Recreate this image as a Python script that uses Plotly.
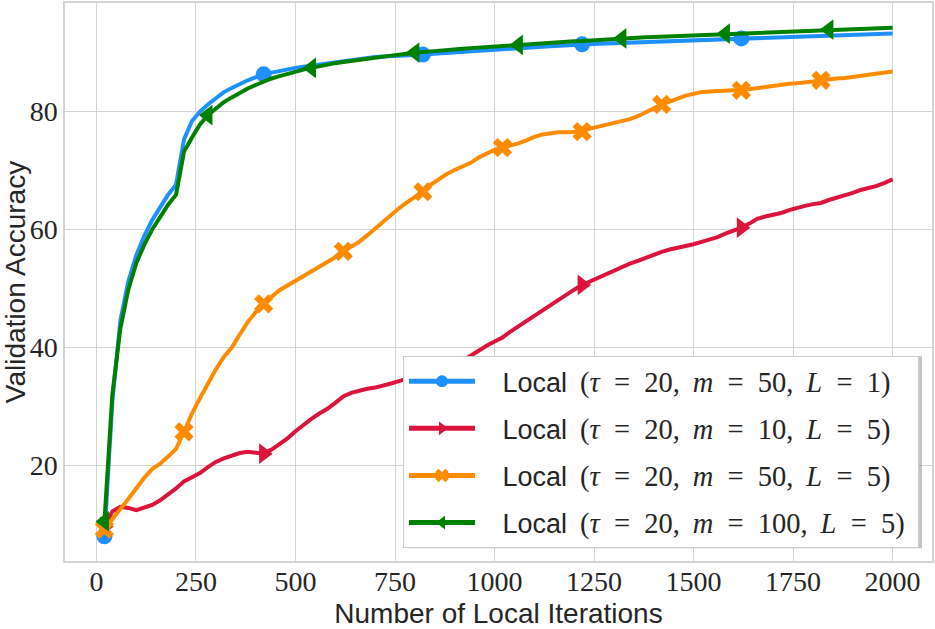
import plotly.graph_objects as go

# Local iterations (evaluation every 20 iterations)
iterations = list(range(20, 2001, 20))

acc_m50_L1 = [
    8.0, 31.0, 44.5, 51.2, 55.6, 58.9, 61.6, 63.9, 65.9, 67.6,
    75.3, 78.4, 80.0, 81.2, 82.3, 83.3, 84.0, 84.7, 85.3, 85.8,
    86.3, 86.6, 86.9, 87.2, 87.4, 87.6, 87.8, 88.0, 88.2, 88.4,
    88.6, 88.8, 88.95, 89.1, 89.25, 89.35, 89.45, 89.5, 89.55, 89.6,
    89.65, 89.75, 89.85, 89.95, 90.05, 90.15, 90.2, 90.3, 90.4, 90.5,
    90.6, 90.7, 90.8, 90.85, 90.95, 91.0, 91.05, 91.15, 91.2, 91.3,
    91.4, 91.45, 91.5, 91.55, 91.6, 91.65, 91.7, 91.75, 91.8, 91.85,
    91.9, 91.95, 92.0, 92.05, 92.1, 92.15, 92.2, 92.25, 92.3, 92.35,
    92.4, 92.45, 92.5, 92.55, 92.6, 92.65, 92.7, 92.75, 92.8, 92.85,
    92.9, 92.95, 93.0, 93.0, 93.05, 93.1, 93.1, 93.15, 93.2, 93.25,
]

acc_m10_L5 = [
    9.6, 12.2, 13.0, 12.8, 12.4, 12.8, 13.3, 14.1, 15.0, 16.1,
    17.3, 18.0, 18.7, 19.7, 20.6, 21.2, 21.7, 22.1, 22.3, 22.2,
    22.0, 22.7, 23.6, 24.6, 25.8, 26.9, 27.9, 28.8, 29.6, 30.6,
    31.7, 32.3, 32.7, 33.0, 33.2, 33.5, 33.9, 34.3, 34.7, 35.1,
    35.4, 35.8, 36.3, 36.8, 37.3, 37.8, 38.6, 39.5, 40.3, 41.0,
    41.7, 42.7, 43.6, 44.4, 45.3, 46.3, 47.2, 48.1, 48.9, 49.8,
    50.6, 51.2, 51.8, 52.4, 53.1, 53.7, 54.2, 54.7, 55.2, 55.8,
    56.2, 56.6, 56.9, 57.1, 57.5, 57.9, 58.3, 58.7, 59.3, 59.8,
    60.3, 61.0, 61.8, 62.2, 62.5, 62.8, 63.3, 63.7, 64.0, 64.3,
    64.5, 65.0, 65.4, 65.7, 66.2, 66.7, 67.0, 67.4, 67.9, 68.5,
]

acc_m50_L5 = [
    9.2, 11.0, 12.6, 14.3, 16.2, 17.9, 19.4, 20.3, 21.5, 22.8,
    25.7, 28.8, 31.4, 33.9, 36.3, 38.4, 40.0, 42.2, 44.3, 46.0,
    47.4, 48.6, 49.7, 50.5, 51.2, 52.0, 52.9, 53.7, 54.5, 55.3,
    56.3, 57.1, 57.9, 59.0, 60.2, 61.3, 62.5, 63.6, 64.6, 65.5,
    66.4, 67.6, 68.6, 69.4, 70.1, 70.7, 71.3, 72.2, 72.9, 73.5,
    73.9, 74.2, 74.6, 75.1, 75.7, 76.1, 76.3, 76.5, 76.5, 76.6,
    76.6, 77.1, 77.4, 77.7, 78.0, 78.3, 78.7, 79.2, 79.9, 80.6,
    81.2, 81.7, 82.2, 82.7, 83.0, 83.3, 83.4, 83.5, 83.5, 83.6,
    83.6, 83.8, 84.0, 84.1, 84.3, 84.5, 84.7, 84.8, 84.9, 85.1,
    85.3, 85.5, 85.6, 85.7, 85.9, 86.1, 86.2, 86.4, 86.6, 86.8,
]

acc_m100_L5 = [
    10.5, 32.0, 43.2, 49.8, 54.3, 57.4, 60.0, 62.2, 64.2, 65.9,
    73.2, 75.6, 77.8, 79.4, 80.6, 81.6, 82.4, 83.2, 83.9, 84.5,
    85.1, 85.6, 86.0, 86.4, 86.8, 87.1, 87.4, 87.7, 88.0, 88.2,
    88.4, 88.6, 88.8, 89.0, 89.2, 89.35, 89.5, 89.65, 89.8, 90.0,
    90.1, 90.2, 90.35, 90.45, 90.55, 90.65, 90.75, 90.85, 90.95, 91.05,
    91.1, 91.2, 91.3, 91.35, 91.45, 91.5, 91.6, 91.7, 91.8, 91.9,
    91.95, 92.05, 92.1, 92.2, 92.3, 92.4, 92.45, 92.5, 92.6, 92.65,
    92.7, 92.75, 92.8, 92.9, 92.95, 93.0, 93.05, 93.1, 93.2, 93.25,
    93.3, 93.35, 93.4, 93.45, 93.5, 93.55, 93.6, 93.7, 93.75, 93.8,
    93.85, 93.9, 93.95, 94.0, 94.0, 94.05, 94.1, 94.1, 94.15, 94.2,
]

x_ticks = [0, 250, 500, 750, 1000, 1250, 1500, 1750, 2000]
y_ticks = [20, 40, 60, 80]

SERIF = "Liberation Serif"
SANS = "Liberation Sans"
EQ = "\u2002=\u2002"
SEP = ",\u2009 "
LEAD = "\u00a0\u00a0\u00a0"
TRAIL = "\u00a0"


def label(tau, m, L):
    return (f'{LEAD}Local\u2009 <span style="font-family:{SERIF}; font-size:28.5px">'
            f'(<i>τ</i>{EQ}{tau}{SEP}<i>m</i>{EQ}{m}{SEP}<i>L</i>{EQ}{L})</span>'
            f'{TRAIL}')


series = [
    (acc_m50_L1, label(20, 50, 1), "#1E90FF", "circle", 20, 16),
    (acc_m10_L5, label(20, 10, 5), "#DC143C", "triangle-right", 20, 18),
    (acc_m50_L5, label(20, 50, 5), "#FF8C00", "x", 10, 17),
    (acc_m100_L5, label(20, 100, 5), "#008000", "triangle-left", 13, 18),
]

fig = go.Figure()
for k, (vals, name, color, sym, every, msize) in enumerate(series):
    sizes = [msize if i % every == 0 else 0 for i in range(len(iterations))]
    fig.add_trace(go.Scatter(
        x=iterations, y=vals, name=name, mode="lines+markers",
        legendgroup=f"g{k}",
        line=dict(color=color, width=4),
        marker=dict(symbol=sym, size=sizes, color=color, opacity=1,
                    line=dict(width=0)),
    ))

# soft drop shadow behind the legend box (paper coordinates)
PLOT_W, PLOT_H = 868, 564
fig.add_shape(
    type="rect", xref="paper", yref="paper", layer="above",
    x0=(408 - 65) / PLOT_W, x1=(923 - 65) / PLOT_W,
    y0=(565 - 552) / PLOT_H, y1=(565 - 358) / PLOT_H,
    fillcolor="rgba(110,110,110,0.4)", line=dict(width=0),
)

grid = "#d4d4d4"
fig.update_layout(
    width=935, height=629,
    margin=dict(l=65, r=2, t=1, b=64),
    paper_bgcolor="white", plot_bgcolor="white",
    showlegend=True,
    legend=dict(
        x=0.985, y=0.0229, xanchor="right", yanchor="bottom",
        bgcolor="white", bordercolor="#cccccc", borderwidth=1,
        font=dict(family=SANS, size=27, color="#262626"),
        traceorder="grouped", tracegroupgap=9,
        itemsizing="constant", itemwidth=66,
    ),
    xaxis=dict(
        range=[-79, 2099], tickvals=x_ticks, ticktext=[str(v) for v in x_ticks],
        showgrid=True, gridcolor=grid, gridwidth=1, zeroline=False,
        showline=True, linecolor=grid, linewidth=1.5, mirror=True,
        ticks="", ticklabelstandoff=-5,
        tickfont=dict(family=SERIF, size=28, color="#262626"),
        title=dict(text="Number of Local Iterations", standoff=11,
                   font=dict(family=SANS, size=28, color="#262626")),
    ),
    yaxis=dict(
        range=[3.8, 98.4], tickvals=y_ticks, ticktext=[str(v) for v in y_ticks],
        showgrid=True, gridcolor=grid, gridwidth=1, zeroline=False,
        showline=True, linecolor=grid, linewidth=1.5, mirror=True,
        ticks="", tickfont=dict(family=SERIF, size=28, color="#262626"),
        title=dict(text="Validation Accuracy", standoff=6,
                   font=dict(family=SANS, size=28, color="#262626")),
    ),
)

fig.write_html(
    "out.html",
    config={"displayModeBar": False},
    post_script="document.body.style.margin='0';document.body.style.padding='0';",
)
